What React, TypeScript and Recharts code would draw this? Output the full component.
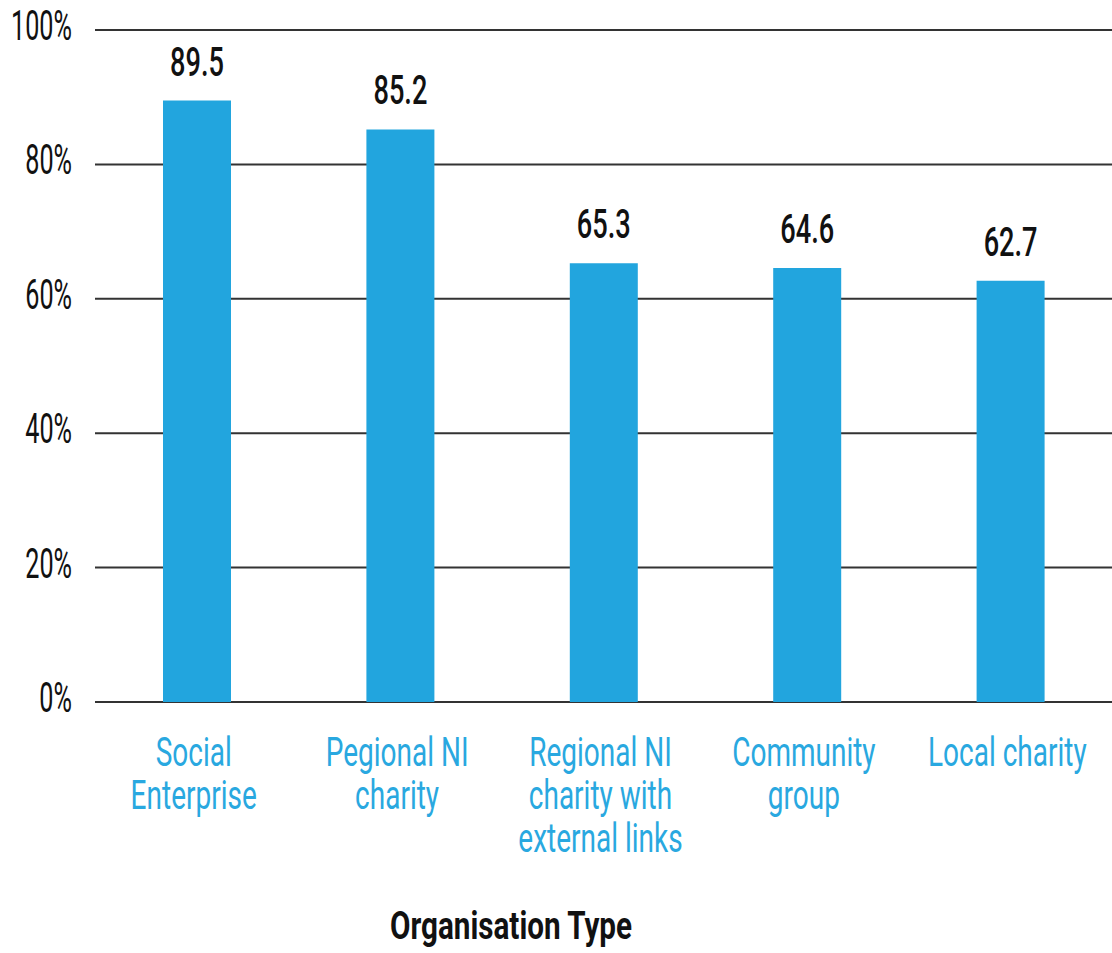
import React from "react";
import { BarChart, Bar, XAxis, YAxis, CartesianGrid, LabelList } from "recharts";

const categories = [
  "Social Enterprise",
  "Pegional NI charity",
  "Regional NI charity with external links",
  "Community group",
  "Local charity",
];
const categoryLines = [
  ["Social", "Enterprise"],
  ["Pegional NI", "charity"],
  ["Regional NI", "charity with", "external links"],
  ["Community", "group"],
  ["Local charity"],
];
const values = [89.5, 85.2, 65.3, 64.6, 62.7];
const yTicks = [0, 20, 40, 60, 80, 100];

const data = categories.map((name, i) => ({ name, value: values[i] }));

const FONT = "Roboto, 'DejaVu Sans', sans-serif";

function XTick({ x, y, payload, index }: any) {
  const lines = categoryLines[index] || [payload.value];
  return (
    <g transform={`translate(${x - 3},${y}) scale(0.7,1)`}>
      {lines.map((line: string, i: number) => (
        <text key={i} x={0} y={62 + i * 43} textAnchor="middle" fill="#29a8e0" fontSize={40} fontFamily={FONT}>
          {line}
        </text>
      ))}
    </g>
  );
}

function YTick({ x, y, payload }: any) {
  return (
    <g transform={`translate(${x},${y}) scale(0.6,1)`}>
      <text x={0} y={10} textAnchor="end" fill="#111" fontSize={42} fontFamily={FONT}>
        {payload.value}%
      </text>
    </g>
  );
}

function ValueLabel({ x, y, width, value }: any) {
  return (
    <g transform={`translate(${x + width / 2},${y - 25}) scale(0.68,1)`}>
      <text x={0} y={0} textAnchor="middle" fill="#111" fontSize={40} fontWeight={500} fontFamily={FONT}>
        {value}
      </text>
    </g>
  );
}

export default function App() {
  return (
    <div style={{ position: "absolute", left: 0, top: 0, width: 1112, height: 953, background: "#fff" }}>
      <BarChart width={1112} height={953} data={data} margin={{ top: 30, right: 0, left: 0, bottom: 191 }}>
        <CartesianGrid vertical={false} stroke="#333" strokeWidth={2} />
        <XAxis
          dataKey="name"
          axisLine={false}
          tickLine={false}
          tickSize={0}
          height={60}
          interval={0}
          tick={<XTick />}
        />
        <YAxis
          domain={[0, 100]}
          ticks={yTicks}
          axisLine={false}
          tickLine={false}
          tickSize={0}
          tickMargin={23}
          width={95}
          tick={<YTick />}
        />
        <Bar dataKey="value" fill="#22a5de" barSize={68} isAnimationActive={false}>
          <LabelList dataKey="value" content={<ValueLabel />} />
        </Bar>
      </BarChart>
      <div
        style={{
          position: "absolute",
          left: 311,
          top: 902,
          width: 400,
          textAlign: "center",
          fontFamily: FONT,
          fontWeight: 700,
          fontSize: 38,
          color: "#111",
          transform: "scaleX(0.78)",
          lineHeight: "48px",
        }}
      >
        Organisation Type
      </div>
    </div>
  );
}
